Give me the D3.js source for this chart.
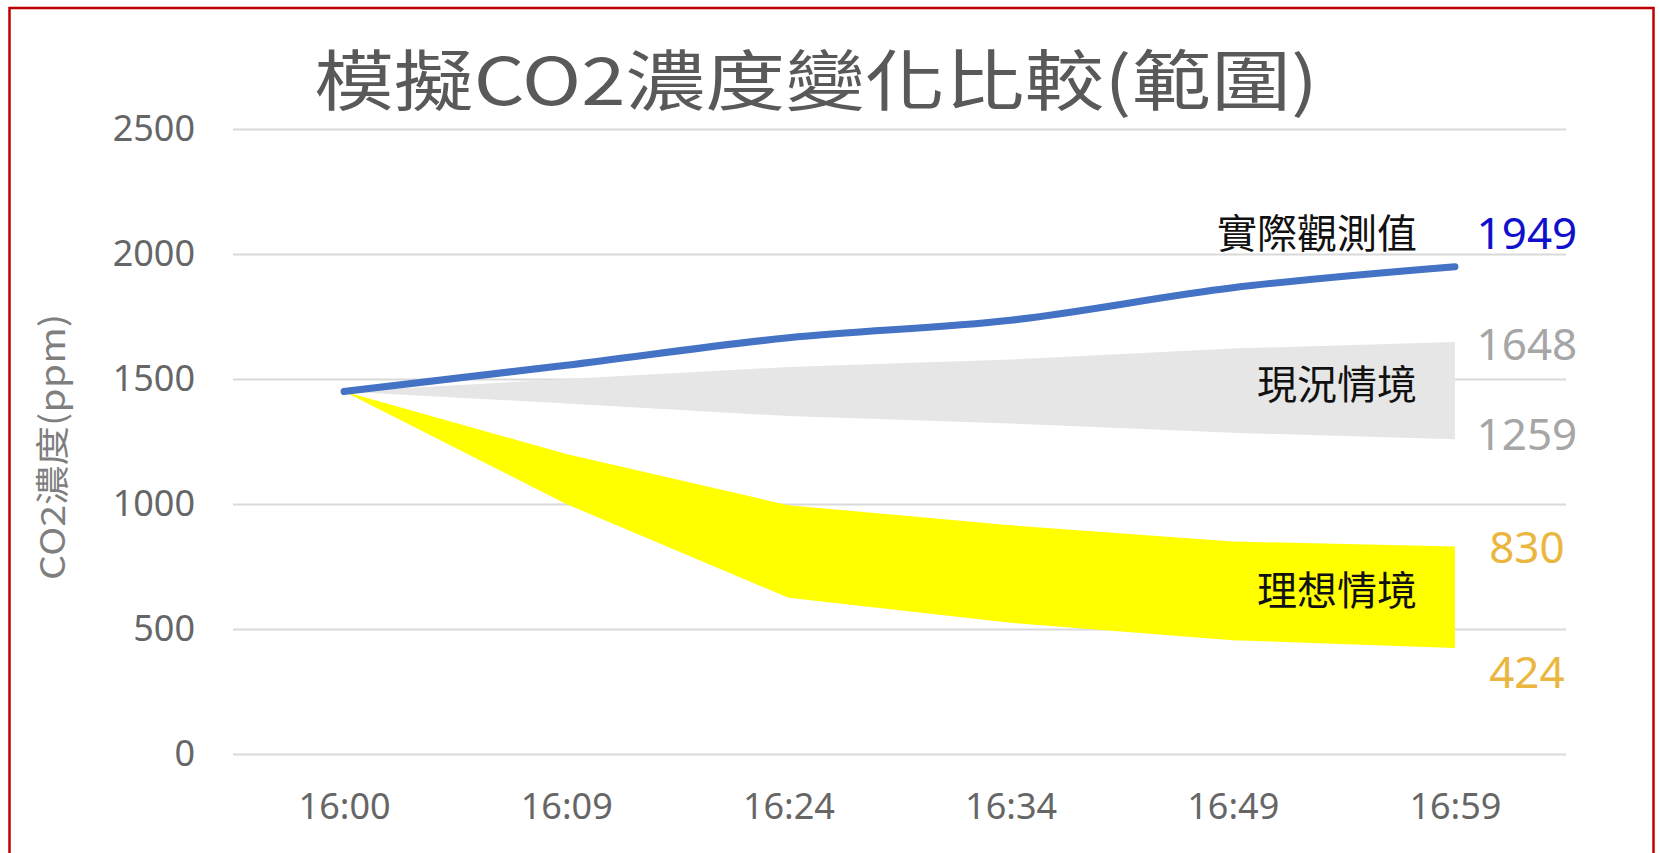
<!DOCTYPE html>
<html>
<head>
<meta charset="utf-8">
<script src="https://cdn.jsdelivr.net/npm/d3@7"></script>
<style>
    body { margin: 0; background: #fff; }
    .axis text { font-family: "Noto Sans", sans-serif; font-size: 36px; fill: #666; }
    .axis .domain { display: none; }
    .y.axis line { stroke: #d9d9d9; stroke-width: 2; }
    .cjk { font-family: "Noto Sans CJK TC", "Noto Sans", sans-serif; }
    .num { font-family: "Noto Sans", sans-serif; font-size: 44px; }
</style>
</head>
<body>
<script>
//chart values
var times = ["16:00", "16:09", "16:24", "16:34", "16:49", "16:59"];
var observed = [1450, 1555, 1665, 1735, 1865, 1949];
var currentHigh = [1450, 1500, 1548, 1578, 1622, 1648];
var currentLow = [1450, 1402, 1352, 1322, 1285, 1259];
var idealHigh = [1450, 1200, 995, 915, 850, 830];
var idealLow = [1450, 1000, 625, 525, 455, 424];
var yTicks = [0, 500, 1000, 1500, 2000, 2500];
var seriesNames = ["實際觀測值", "現況情境", "理想情境"];

window.onload = drawChart();

function drawChart(){

    //frame dimensions
    var width = 1660,
        height = 853;

    var svg = d3.select("body")
        .append("svg")
        .attr("width", width)
        .attr("height", height);

    //plot area edges
    var left = 233, right = 1566, top = 129, bottom = 754;

    var x = d3.scalePoint()
        .domain(times)
        .range([left, right])
        .padding(0.5);

    var y = d3.scaleLinear()
        .domain([0, 2500])
        .range([bottom, top]);

    //red frame round the picture
    svg.append("rect")
        .attr("x", 9.5)
        .attr("y", 8)
        .attr("width", 1644)
        .attr("height", 880)
        .attr("fill", "none")
        .attr("stroke", "#c00000")
        .attr("stroke-width", 2.5);

    //title
    svg.append("text")
        .attr("class", "cjk")
        .attr("x", 816)
        .attr("y", 105)
        .attr("text-anchor", "middle")
        .attr("font-size", 66)
        .attr("fill", "#595959")
        .attr("textLength", 1004)
        .attr("lengthAdjust", "spacingAndGlyphs")
        .text("模擬CO2濃度變化比較(範圍)");

    //y axis with gridlines
    svg.append("g")
        .attr("class", "y axis")
        .attr("transform", "translate(" + left + ",0)")
        .call(d3.axisLeft(y)
            .tickValues(yTicks)
            .tickFormat(d3.format("d"))
            .tickSize(-(right - left))
            .tickPadding(38));

    //x axis labels
    svg.append("g")
        .attr("class", "x axis")
        .attr("transform", "translate(0," + bottom + ")")
        .call(d3.axisBottom(x)
            .tickSize(0)
            .tickPadding(39));

    //y axis title
    svg.append("text")
        .attr("class", "cjk")
        .attr("transform", "translate(50,447) rotate(-90)")
        .attr("text-anchor", "middle")
        .attr("dominant-baseline", "central")
        .attr("font-size", 34)
        .attr("fill", "#7f7f7f")
        .attr("textLength", 266)
        .attr("lengthAdjust", "spacingAndGlyphs")
        .text("CO2濃度(ppm)");

    //ranges
    var idx = d3.range(times.length);

    var currentArea = d3.area()
        .x(function(i){ return x(times[i]); })
        .y0(function(i){ return y(currentLow[i]); })
        .y1(function(i){ return y(currentHigh[i]); });

    var idealArea = d3.area()
        .x(function(i){ return x(times[i]); })
        .y0(function(i){ return y(idealLow[i]); })
        .y1(function(i){ return y(idealHigh[i]); });

    svg.append("path")
        .datum(idx)
        .attr("fill", "#e7e6e6")
        .attr("d", currentArea);

    svg.append("path")
        .datum(idx)
        .attr("fill", "#ffff00")
        .attr("d", idealArea);

    //observed line
    var line = d3.line()
        .x(function(i){ return x(times[i]); })
        .y(function(i){ return y(observed[i]); })
        .curve(d3.curveMonotoneX);

    svg.append("path")
        .datum(idx)
        .attr("fill", "none")
        .attr("stroke", "#4472c4")
        .attr("stroke-width", 7)
        .attr("stroke-linecap", "round")
        .attr("stroke-linejoin", "round")
        .attr("d", line);

    //end labels
    var last = times.length - 1,
        xEnd = x(times[last]);

    var numLabels = [
        {v: observed[last], dy: -18, color: "#0f0fcc"},
        {v: currentHigh[last], dy: 18, color: "#a6a6a6"},
        {v: currentLow[last], dy: 11, color: "#a6a6a6"},
        {v: idealHigh[last], dy: 16, color: "#ebb63e"},
        {v: idealLow[last], dy: 40, color: "#ebb63e"}
    ];

    svg.selectAll(".num")
        .data(numLabels)
        .enter()
        .append("text")
        .attr("class", "num")
        .attr("x", xEnd + 72)
        .attr("y", function(d){ return y(d.v) + d.dy; })
        .attr("text-anchor", "middle")
        .attr("fill", function(d){ return d.color; })
        .text(function(d){ return d.v; });

    //series names
    var nameY = [
        y(observed[last]) - 19,
        y((currentHigh[last] + currentLow[last]) / 2) + 8,
        y((idealHigh[last] + idealLow[last]) / 2) + 8
    ];

    svg.selectAll(".name")
        .data(seriesNames)
        .enter()
        .append("text")
        .attr("class", "name cjk")
        .attr("x", xEnd - 38)
        .attr("y", function(d, i){ return nameY[i]; })
        .attr("text-anchor", "end")
        .attr("font-size", 40)
        .attr("fill", "#111")
        .text(function(d){ return d; });
};
</script>
</body>
</html>
